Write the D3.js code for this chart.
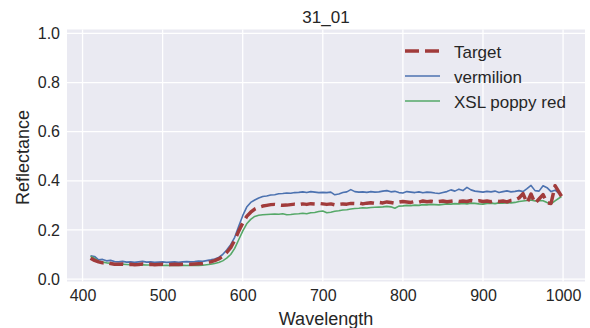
<!DOCTYPE html>
<html>
<head>
<meta charset="utf-8">
<script src="https://cdn.jsdelivr.net/npm/d3@7"></script>
<style>
  body { margin: 0; background: #fff; }
  text { font-family: "Liberation Sans", Arial, sans-serif; fill: #262626; }
</style>
</head>
<body>
<div id="chart-root"></div>
<script>
// wavelengths (nm)
var wavelengths = [410, 415, 420, 425, 430, 435, 440, 445, 450, 455, 460, 465, 470, 475, 480, 485, 490, 495,
  500, 505, 510, 515, 520, 525, 530, 535, 540, 545, 550, 555, 560, 565, 570, 575, 580, 585, 590, 595,
  600, 605, 610, 615, 620, 625, 630, 635, 640, 645, 650, 655, 660, 665, 670, 675, 680, 685, 690, 695,
  700, 705, 710, 715, 720, 725, 730, 735, 740, 745, 750, 755, 760, 765, 770, 775, 780, 785, 790, 795,
  800, 805, 810, 815, 820, 825, 830, 835, 840, 845, 850, 855, 860, 865, 870, 875, 880, 885, 890, 895,
  900, 905, 910, 915, 920, 925, 930, 935, 940, 945, 950, 955, 960, 965, 970, 975, 980, 985, 990, 998];

var target = [0.085, 0.076, 0.070, 0.066, 0.068, 0.063, 0.060, 0.060, 0.061, 0.059, 0.060, 0.058, 0.059, 0.061, 0.059, 0.060, 0.058, 0.059,
  0.060, 0.058, 0.059, 0.060, 0.059, 0.060, 0.061, 0.060, 0.061, 0.062, 0.063, 0.066, 0.070, 0.075, 0.082, 0.092, 0.108, 0.128, 0.158, 0.195,
  0.228, 0.255, 0.272, 0.285, 0.292, 0.297, 0.300, 0.303, 0.304, 0.302, 0.300, 0.301, 0.303, 0.305, 0.303, 0.306, 0.304, 0.307, 0.306, 0.308,
  0.306, 0.304, 0.306, 0.302, 0.304, 0.306, 0.305, 0.308, 0.307, 0.310, 0.306, 0.309, 0.311, 0.308, 0.312, 0.310, 0.314, 0.312, 0.309, 0.313,
  0.316, 0.314, 0.312, 0.316, 0.313, 0.318, 0.315, 0.317, 0.314, 0.316, 0.318, 0.315, 0.317, 0.319, 0.316, 0.318, 0.316, 0.320, 0.317, 0.319,
  0.316, 0.318, 0.315, 0.319, 0.316, 0.318, 0.314, 0.320, 0.322, 0.330, 0.348, 0.310, 0.346, 0.308, 0.326, 0.344, 0.310, 0.308, 0.380, 0.337];

var vermilion = [0.095, 0.092, 0.078, 0.080, 0.074, 0.076, 0.071, 0.070, 0.072, 0.069, 0.070, 0.068, 0.070, 0.072, 0.069, 0.070, 0.068, 0.069,
  0.070, 0.068, 0.069, 0.070, 0.068, 0.070, 0.071, 0.070, 0.071, 0.073, 0.072, 0.075, 0.078, 0.082, 0.088, 0.100, 0.118, 0.140, 0.170, 0.215,
  0.258, 0.293, 0.312, 0.322, 0.330, 0.336, 0.338, 0.342, 0.343, 0.347, 0.348, 0.350, 0.349, 0.352, 0.353, 0.355, 0.352, 0.356, 0.354, 0.352,
  0.353, 0.352, 0.354, 0.343, 0.346, 0.352, 0.355, 0.364, 0.356, 0.354, 0.355, 0.353, 0.356, 0.354, 0.355, 0.358, 0.360, 0.355, 0.357, 0.352,
  0.350, 0.356, 0.354, 0.352, 0.355, 0.351, 0.354, 0.353, 0.350, 0.348, 0.352, 0.356, 0.363, 0.358, 0.366, 0.360, 0.373, 0.363, 0.358, 0.356,
  0.354, 0.357, 0.355, 0.358, 0.352, 0.356, 0.359, 0.355, 0.357, 0.360, 0.356, 0.368, 0.381, 0.360, 0.358, 0.380, 0.372, 0.356, 0.362, 0.341];

var poppyRed = [0.093, 0.085, 0.072, 0.069, 0.066, 0.064, 0.062, 0.061, 0.060, 0.059, 0.058, 0.058, 0.057, 0.058, 0.057, 0.057, 0.056, 0.056,
  0.055, 0.056, 0.055, 0.056, 0.055, 0.056, 0.055, 0.056, 0.055, 0.055, 0.056, 0.058, 0.060, 0.063, 0.067, 0.074, 0.085, 0.100, 0.125, 0.160,
  0.195, 0.225, 0.243, 0.255, 0.260, 0.262, 0.263, 0.264, 0.265, 0.264, 0.266, 0.262, 0.263, 0.265, 0.266, 0.268, 0.266, 0.270, 0.271, 0.275,
  0.277, 0.270, 0.272, 0.276, 0.278, 0.281, 0.282, 0.285, 0.287, 0.288, 0.290, 0.289, 0.291, 0.292, 0.293, 0.294, 0.296, 0.294, 0.288, 0.297,
  0.298, 0.300, 0.299, 0.301, 0.300, 0.303, 0.302, 0.304, 0.303, 0.302, 0.304, 0.306, 0.305, 0.307, 0.306, 0.308, 0.306, 0.309, 0.308, 0.306,
  0.305, 0.308, 0.309, 0.307, 0.310, 0.309, 0.311, 0.310, 0.312, 0.316, 0.318, 0.320, 0.322, 0.318, 0.320, 0.319, 0.312, 0.306, 0.318, 0.336];

var seriesNames = ["Target", "vermilion", "XSL poppy red"];
var xTicks = [400, 500, 600, 700, 800, 900, 1000];
var yTicks = [0.0, 0.2, 0.4, 0.6, 0.8, 1.0];

(function () {
  var width = 590, height = 328;
  var plot = { left: 67, right: 585, top: 29.5, bottom: 281.5 };

  var svg = d3.select("#chart-root")
    .append("svg")
      .attr("width", width)
      .attr("height", height);

  // matplotlib style 5% padding on x
  var ext = d3.extent(wavelengths), pad = (ext[1] - ext[0]) * 0.05;
  var x = d3.scaleLinear()
    .domain([ext[0] - pad, ext[1] + pad])
    .range([plot.left, plot.right]);
  var y = d3.scaleLinear()
    .domain([-0.01, 1.016])
    .range([plot.bottom, plot.top]);

  // background
  svg.append("rect")
    .attr("x", plot.left).attr("y", plot.top)
    .attr("width", plot.right - plot.left)
    .attr("height", plot.bottom - plot.top)
    .attr("fill", "#eaeaf2");

  // grid
  svg.append("g")
    .selectAll("line.vx")
    .data(xTicks)
    .enter().append("line")
      .attr("x1", d => x(d)).attr("x2", d => x(d))
      .attr("y1", plot.top).attr("y2", plot.bottom)
      .attr("stroke", "#fff").attr("stroke-width", 1.3);
  svg.append("g")
    .selectAll("line.hy")
    .data(yTicks)
    .enter().append("line")
      .attr("x1", plot.left).attr("x2", plot.right)
      .attr("y1", d => y(d)).attr("y2", d => y(d))
      .attr("stroke", "#fff").attr("stroke-width", 1.3);

  // axes (no tick marks, seaborn darkgrid)
  var xAxis = svg.append("g")
    .attr("transform", "translate(0," + plot.bottom + ")")
    .call(d3.axisBottom(x).tickValues(xTicks).tickSize(0).tickPadding(8).tickFormat(d3.format("d")));
  var yAxis = svg.append("g")
    .attr("transform", "translate(" + plot.left + ",0)")
    .call(d3.axisLeft(y).tickValues(yTicks).tickSize(0).tickPadding(7).tickFormat(d3.format(".1f")));
  [xAxis, yAxis].forEach(function (a) {
    a.select(".domain").remove();
    a.selectAll("text").attr("font-size", 16).attr("fill", "#262626")
      .attr("font-family", "Liberation Sans, Arial, sans-serif");
  });

  var line = d3.line()
    .x((d, i) => x(wavelengths[i]))
    .y(d => y(d));

  var styles = [
    { data: target, color: "#a13b3b", width: 3.5, dash: "14,6" },
    { data: vermilion, color: "#4c72b0", width: 1.6, dash: null },
    { data: poppyRed, color: "#55a868", width: 1.6, dash: null }
  ];

  // draw green, blue, then target on top
  [styles[1], styles[2], styles[0]].forEach(function (s) {
    svg.append("path")
      .datum(s.data)
      .attr("fill", "none")
      .attr("stroke", s.color)
      .attr("stroke-width", s.width)
      .attr("stroke-dasharray", s.dash)
      .attr("stroke-linejoin", "round")
      .attr("d", line);
  });

  // legend
  var lg = svg.append("g").attr("transform", "translate(405,51)");
  seriesNames.forEach(function (name, i) {
    var s = styles[i];
    lg.append("line")
      .attr("x1", 0).attr("x2", 35)
      .attr("y1", i * 25).attr("y2", i * 25)
      .attr("stroke", s.color)
      .attr("stroke-width", s.width)
      .attr("stroke-dasharray", s.dash);
    lg.append("text")
      .attr("x", 49).attr("y", i * 25 + 7)
      .attr("font-size", 17)
      .text(name);
  });

  // title and labels
  svg.append("text")
    .attr("x", (plot.left + plot.right) / 2).attr("y", 23)
    .attr("text-anchor", "middle").attr("font-size", 17)
    .text("31_01");
  svg.append("text")
    .attr("x", (plot.left + plot.right) / 2).attr("y", 325)
    .attr("text-anchor", "middle").attr("font-size", 18)
    .text("Wavelength");
  svg.append("text")
    .attr("transform", "translate(29," + ((plot.top + plot.bottom) / 2 + 2) + ") rotate(-90)")
    .attr("text-anchor", "middle").attr("font-size", 18)
    .text("Reflectance");
})();
</script>
</body>
</html>
